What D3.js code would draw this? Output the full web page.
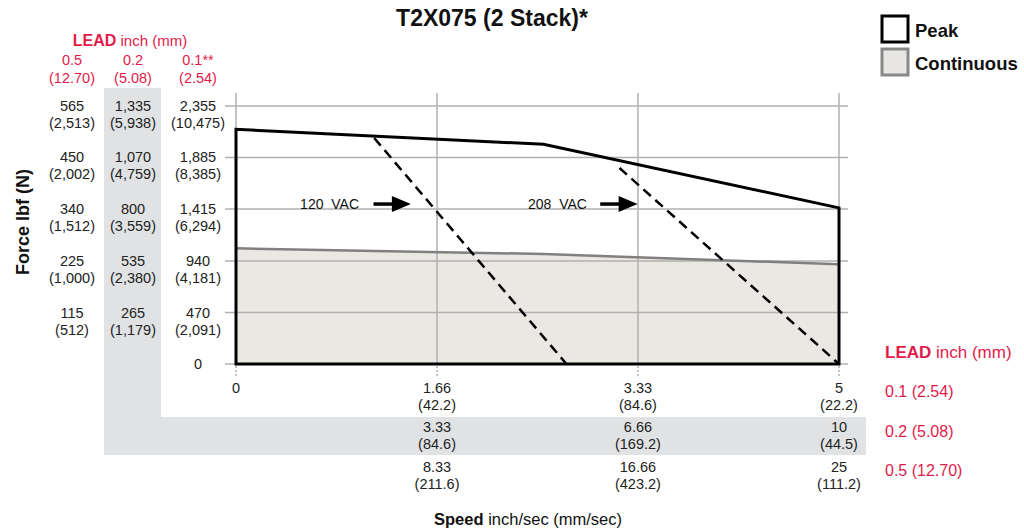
<!DOCTYPE html>
<html><head><meta charset="utf-8">
<script src="https://cdn.jsdelivr.net/npm/d3@7"></script>
<style>
body{margin:0;background:#fff;}
svg{font-family:"Liberation Sans",Arial,sans-serif;}
</style></head>
<body>
<svg id="c" width="1024" height="531"></svg>
<script>
// ---- data ----
const title = "T2X075 (2 Stack)*";
const forceTicks = [0, 470, 940, 1415, 1885, 2355];            // lbf, 0.1 lead
const forceLabels05 = [["",""],["115","(512)"],["225","(1,000)"],["340","(1,512)"],["450","(2,002)"],["565","(2,513)"]];
const forceLabels02 = [["",""],["265","(1,179)"],["535","(2,380)"],["800","(3,559)"],["1,070","(4,759)"],["1,335","(5,938)"]];
const forceLabels01 = [["0",""],["470","(2,091)"],["940","(4,181)"],["1,415","(6,294)"],["1,885","(8,385)"],["2,355","(10,475)"]];
const leadHeaders = [["0.5","(12.70)"],["0.2","(5.08)"],["0.1**","(2.54)"]];
const speedTicks = [0, 1.667, 3.333, 5];                       // inch/sec, 0.1 lead
const speedLabels01 = [["0",""],["1.66","(42.2)"],["3.33","(84.6)"],["5","(22.2)"]];
const speedLabels02 = [["",""],["3.33","(84.6)"],["6.66","(169.2)"],["10","(44.5)"]];
const speedLabels05 = [["",""],["8.33","(211.6)"],["16.66","(423.2)"],["25","(111.2)"]];
const rightLeads = ["0.1 (2.54)","0.2 (5.08)","0.5 (12.70)"];
// peak curve (speed, force)
const peakSpeed = [0, 0, 2.55, 5, 5];
const peakForce = [0, 2142, 2005, 1425, 0];
// continuous curve
const contSpeed = [0, 2.55, 5];
const contForce = [1056, 1004, 910];
// voltage limit lines
const vac120 = {label:"120  VAC", speed:[1.146, 2.74], force:[2063, 0], textAt:[1.02,1460], arrow:[1.14,1.45]};
const vac208 = {label:"208  VAC", speed:[3.18, 5], force:[1789, 0], textAt:[2.91,1460], arrow:[3.02,3.33]};

// ---- drawing ----
const svg = d3.select("#c");
const red = "#e31b4a";
const x = d3.scaleLinear().domain([0,5]).range([236,839]);
const y = d3.scaleLinear().domain([0,2355]).range([364,106]);

// gray bands
svg.append("rect").attr("x",104).attr("y",88).attr("width",57).attr("height",329).attr("fill","#e1e2e4");
svg.append("rect").attr("x",104).attr("y",417).attr("width",762).attr("height",38).attr("fill","#e1e2e4");
svg.append("rect").attr("x",161).attr("y",88).attr("width",705).attr("height",329).attr("fill","#fff");

// continuous fill
svg.append("path")
  .datum(contSpeed.map((s,i)=>[s,contForce[i]]))
  .attr("d", d3.area().x(d=>x(d[0])).y0(y(0)).y1(d=>y(d[1])))
  .attr("fill","#ebe8e4");

// grid
const grid = svg.append("g");
grid.selectAll("line.h").data(forceTicks).join("line")
  .attr("x1",225).attr("x2",848).attr("y1",d=>y(d)).attr("y2",d=>y(d))
  .attr("stroke","#b0b0b0").attr("stroke-width",1.5);
grid.selectAll("line.v").data(speedTicks).join("line")
  .attr("x1",d=>x(d)).attr("x2",d=>x(d)).attr("y1",93).attr("y2",364)
  .attr("stroke","#b0b0b0").attr("stroke-width",1.5);
grid.selectAll("line.vt").data(speedTicks).join("line")
  .attr("x1",d=>x(d)).attr("x2",d=>x(d)).attr("y1",366).attr("y2",376)
  .attr("stroke","#b0b0b0").attr("stroke-width",1.5).attr("stroke-dasharray","2,2");

// continuous line
svg.append("path")
  .datum(contSpeed.map((s,i)=>[s,contForce[i]]))
  .attr("d", d3.line().x(d=>x(d[0])).y(d=>y(d[1])))
  .attr("fill","none").attr("stroke","#808080").attr("stroke-width",2.5);

// peak
svg.append("path")
  .attr("d", d3.line().x(d=>x(d[0])).y(d=>y(d[1]))(peakSpeed.map((s,i)=>[s,peakForce[i]]))+"Z")
  .attr("fill","none").attr("stroke","#000").attr("stroke-width",3).attr("stroke-linejoin","miter");

// voltage lines + labels
[vac120, vac208].forEach(v=>{
  svg.append("line")
    .attr("x1",x(v.speed[0])).attr("y1",y(v.force[0]))
    .attr("x2",x(v.speed[1])).attr("y2",y(v.force[1]))
    .attr("stroke","#000").attr("stroke-width",2.5).attr("stroke-dasharray","10,6");
  svg.append("text").attr("x",x(v.textAt[0])).attr("y",y(v.textAt[1]))
    .attr("text-anchor","end").attr("dominant-baseline","central")
    .attr("font-size",14).attr("fill","#111").style("white-space","pre").text(v.label);
  const ay = y(v.textAt[1]);
  const x0 = x(v.arrow[0]), x1 = x(v.arrow[1]);
  svg.append("line").attr("x1",x0).attr("x2",x1-16).attr("y1",ay).attr("y2",ay)
    .attr("stroke","#000").attr("stroke-width",3.5);
  svg.append("path").attr("d",`M${x1},${ay}L${x1-19},${ay-8}L${x1-19},${ay+8}Z`).attr("fill","#000");
});

// left tables
const colX = [72,133,198];
const leftSets = [forceLabels05, forceLabels02, forceLabels01];
leftSets.forEach((set,ci)=>{
  set.forEach((lab,i)=>{
    const yy = y(forceTicks[i]);
    svg.append("text").attr("x",colX[ci]).attr("y",yy).attr("text-anchor","middle")
      .attr("dominant-baseline","central").attr("font-size",14.5).attr("fill","#222").text(lab[0]);
    if(lab[1]) svg.append("text").attr("x",colX[ci]).attr("y",yy+17).attr("text-anchor","middle")
      .attr("dominant-baseline","central").attr("font-size",14.5).attr("fill","#222").text(lab[1]);
  });
});
leadHeaders.forEach((h,i)=>{
  svg.append("text").attr("x",colX[i]).attr("y",60).attr("text-anchor","middle")
    .attr("dominant-baseline","central").attr("font-size",14.5).attr("fill",red).text(h[0]);
  svg.append("text").attr("x",colX[i]).attr("y",78).attr("text-anchor","middle")
    .attr("dominant-baseline","central").attr("font-size",14.5).attr("fill",red).text(h[1]);
});
const lh = svg.append("text").attr("x",130).attr("y",40).attr("text-anchor","middle")
  .attr("dominant-baseline","central").attr("font-size",15).attr("fill",red);
lh.append("tspan").attr("font-weight","bold").attr("font-size",16).text("LEAD");
lh.append("tspan").text(" inch (mm)");

// y axis title
svg.append("text").attr("transform","translate(23,222) rotate(-90)")
  .attr("text-anchor","middle").attr("dominant-baseline","central")
  .attr("font-size",18).attr("font-weight","bold").attr("fill","#111").text("Force lbf (N)");

// bottom tables
const rowY = [388,427,467];
[speedLabels01, speedLabels02, speedLabels05].forEach((set,ri)=>{
  set.forEach((lab,i)=>{
    const xx = x(speedTicks[i]);
    svg.append("text").attr("x",xx).attr("y",rowY[ri]).attr("text-anchor","middle")
      .attr("dominant-baseline","central").attr("font-size",14.5).attr("fill","#222").text(lab[0]);
    if(lab[1]) svg.append("text").attr("x",xx).attr("y",rowY[ri]+17).attr("text-anchor","middle")
      .attr("dominant-baseline","central").attr("font-size",14.5).attr("fill","#222").text(lab[1]);
  });
});
const sp = svg.append("text").attr("x",528).attr("y",519).attr("text-anchor","middle")
  .attr("dominant-baseline","central").attr("font-size",16.5).attr("fill","#111");
sp.append("tspan").attr("font-weight","bold").text("Speed");
sp.append("tspan").text(" inch/sec (mm/sec)");

// right lead labels
const rl = svg.append("text").attr("x",885).attr("y",352).attr("dominant-baseline","central")
  .attr("font-size",17).attr("fill",red);
rl.append("tspan").attr("font-weight","bold").text("LEAD");
rl.append("tspan").text(" inch (mm)");
const rightY = [391,431,470];
rightLeads.forEach((t,i)=>{
  svg.append("text").attr("x",885).attr("y",rightY[i]).attr("dominant-baseline","central")
    .attr("font-size",16).attr("fill",red).text(t);
});

// title
svg.append("text").attr("x",492).attr("y",18).attr("text-anchor","middle")
  .attr("dominant-baseline","central").attr("font-size",23).attr("font-weight","bold")
  .attr("fill","#111").text(title);

// legend
const legend = [{name:"Peak",fill:"#fff",stroke:"#000"},{name:"Continuous",fill:"#e9e7e3",stroke:"#888"}];
legend.forEach((l,i)=>{
  const ly = 16 + i*33;
  svg.append("rect").attr("x",882).attr("y",ly).attr("width",26).attr("height",26)
    .attr("fill",l.fill).attr("stroke",l.stroke).attr("stroke-width",3);
  svg.append("text").attr("x",915).attr("y",ly+14).attr("dominant-baseline","central")
    .attr("font-size",18.5).attr("font-weight","bold").attr("fill","#111").text(l.name);
});
</script>
</body></html>
